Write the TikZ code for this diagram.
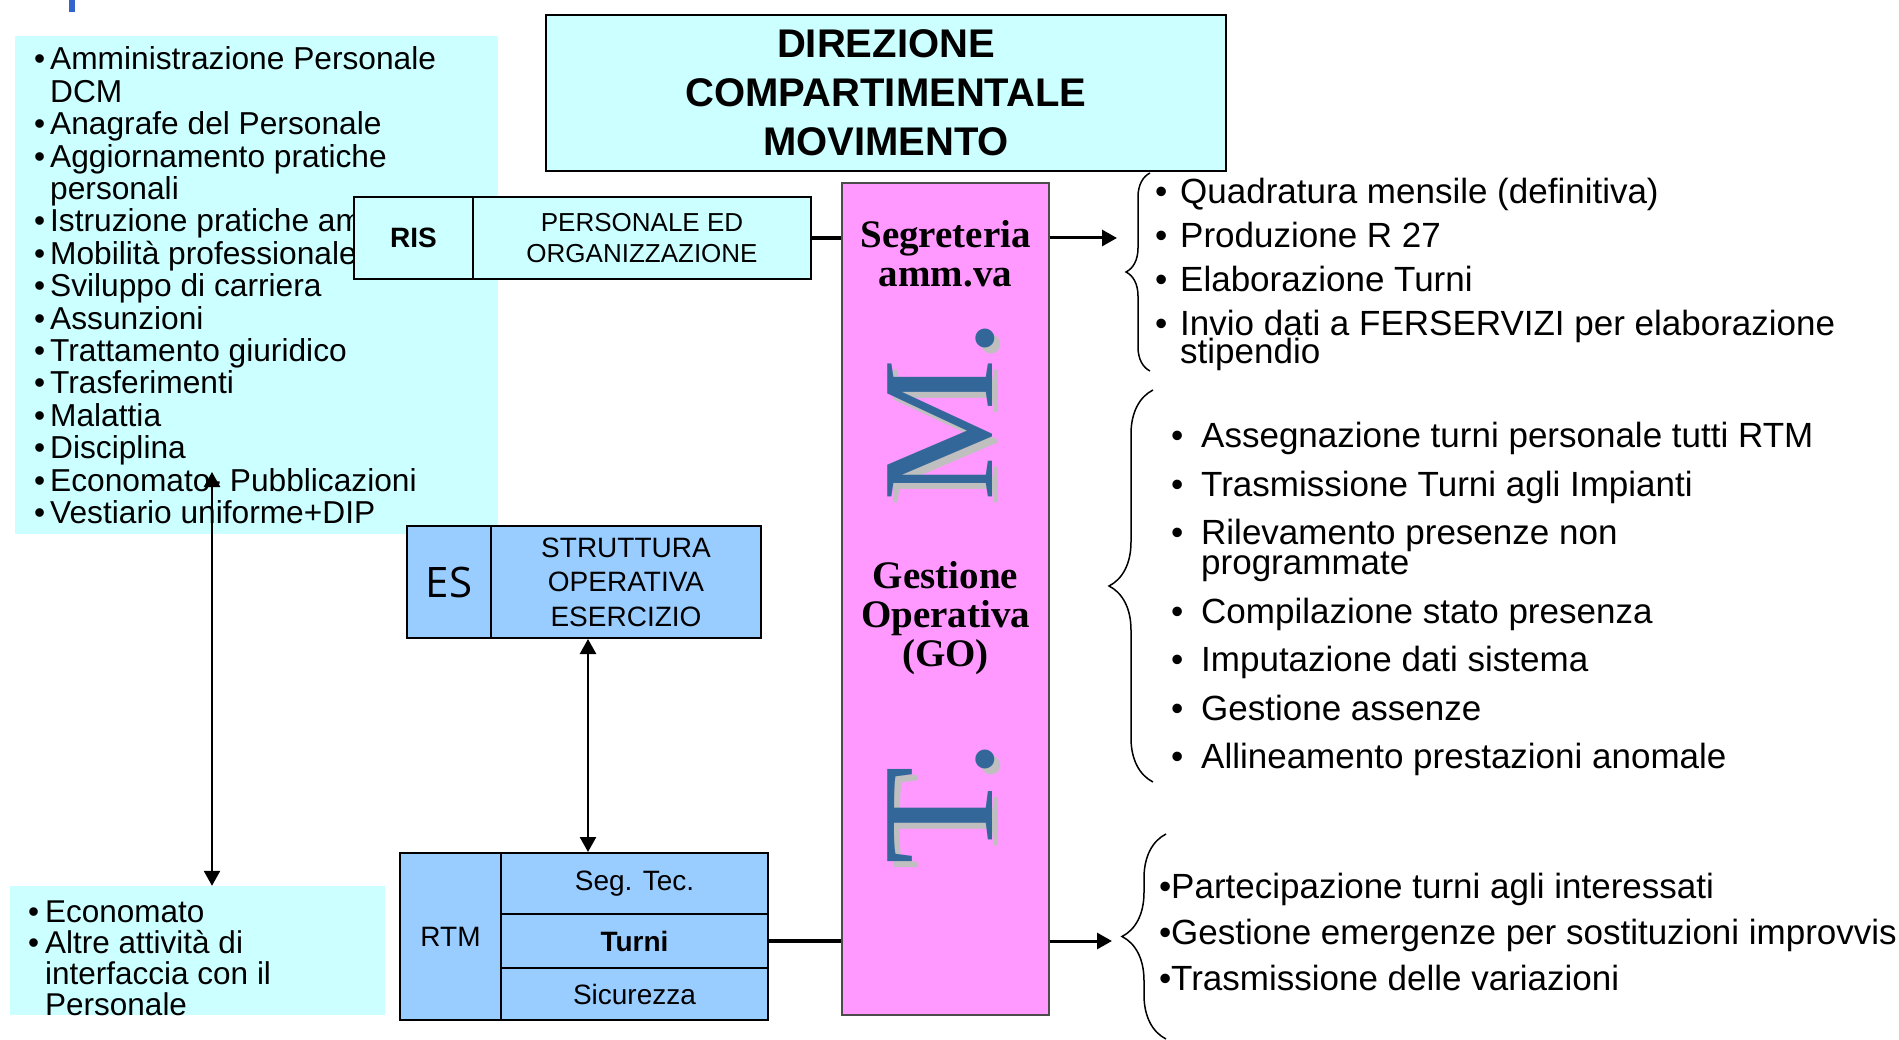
\documentclass[tikz,border=0pt]{standalone}
\usepackage{fontspec}
\setmainfont{Liberation Sans}
\newfontfamily\romfont{Liberation Serif}
\newfontfamily\esfont{Open Sans}
\usetikzlibrary{arrows.meta,decorations.pathreplacing}
\definecolor{cielo}{HTML}{CCFFFF}
\definecolor{azzurro}{HTML}{99CCFF}
\definecolor{rosa}{HTML}{FF99FF}
\definecolor{blulettera}{HTML}{336699}
\definecolor{ombra}{HTML}{BFBFBF}
\definecolor{barra}{HTML}{3366CC}
\newcommand{\lista}[3]{\fontsize{#1}{#2}\selectfont\spaceskip=0pt\xspaceskip=0pt\lineskiplimit=-100pt\parskip=#3\relax}
\newcommand{\voce}[2][16pt]{\hangindent=#1\hangafter=1\noindent\makebox[#1][l]{\textbullet}#2\par}
\tikzset{
  casella/.style={draw=black,line width=2pt,inner sep=0pt,align=center},
  celeste/.style={casella,fill=cielo},
  blu/.style={casella,fill=azzurro},
  elenco/.style={inner sep=0pt,anchor=base west,align=left,text width=#1},
  titolo/.style={inner sep=0pt,align=center,font=\romfont\bfseries\fontsize{39}{39}\selectfont},
  lettera/.style={inner sep=0pt,rotate=90,font=\romfont\fontsize{160}{160}\selectfont},
  raccordo/.style={line width=3.5pt},
  freccia/.style={line width=3pt,-{Triangle[length=15pt,width=16pt]}},
  punta/.style={line width=2.5pt,{Triangle[length=15pt,width=16pt]}-{Triangle[length=15pt,width=16pt]}},
  graffa/.style={decorate,decoration={brace,amplitude=#1},line width=1.5pt}
}
\begin{document}
\begin{tikzpicture}[x=1pt,y=-1pt]
\useasboundingbox (0,0) rectangle (1899,1040);
\fill[barra] (69,0) rectangle (75,12);

\node[fill=cielo,inner sep=0pt,minimum width=483,minimum height=498,anchor=north west] (sfondo) at (15,36) {};
\node[elenco=470] (compiti) at (34,70) {\lista{31.7}{32.4}{0pt}%
  \voce{Amministrazione Personale\newline DCM}
  \voce{Anagrafe del Personale}
  \voce{Aggiornamento pratiche\newline personali}
  \voce{Istruzione pratiche am}
  \voce{Mobilità professionale}
  \voce{Sviluppo di carriera}
  \voce{Assunzioni}
  \voce{Trattamento giuridico}
  \voce{Trasferimenti}
  \voce{Malattia}
  \voce{Disciplina}
  \voce{Economato- Pubblicazioni}
  \voce{Vestiario uniforme+DIP}};

\node[fill=cielo,inner sep=0pt,minimum width=375,minimum height=129] (altre) at (197.5,950.5) {};
\node[elenco=400] (altrelista) at (28,922) {\lista{31.5}{31}{0pt}%
  \voce[17pt]{Economato}
  \voce[17pt]{Altre attività di\newline interfaccia con il\newline Personale}};

\node[celeste,minimum width=680,minimum height=156,font=\bfseries\fontsize{40}{49}\selectfont] (dcm) at (886,93) {DIREZIONE\\COMPARTIMENTALE\\MOVIMENTO};

\node[celeste,minimum width=119,minimum height=82,font=\bfseries\fontsize{28}{30}\selectfont] (ris) at (413.5,238) {RIS};
\node[celeste,minimum width=338,minimum height=82,font=\fontsize{26}{31}\selectfont] (risorg) at (642,238) {PERSONALE ED\\ORGANIZZAZIONE};

\node[blu,minimum width=84,minimum height=112,font=\esfont\fontsize{42}{44}\selectfont] (es) at (449,582) {ES};
\node[blu,minimum width=270,minimum height=112,font=\fontsize{28}{34.5}\selectfont] (esorg) at (626,582) {STRUTTURA\\OPERATIVA\\ESERCIZIO};

\node[blu,minimum width=101,minimum height=167,font=\fontsize{28}{30}\selectfont] (rtm) at (450.5,936.5) {RTM};
\node[blu,minimum width=267,minimum height=61,font=\fontsize{28}{30}\selectfont] (segtec) at (634.5,883.5) {Seg. Tec.};
\node[blu,minimum width=267,minimum height=54,font=\bfseries\fontsize{28}{30}\selectfont] (turni) at (634.5,941) {Turni};
\node[blu,minimum width=267,minimum height=52,font=\fontsize{28}{30}\selectfont] (sicur) at (634.5,994) {Sicurezza};

\node[draw=black!70,line width=1.5pt,fill=rosa,inner sep=0pt,minimum width=207,minimum height=832] (tm) at (945.5,599) {};
\node[titolo] (segr) at (945.5,254) {Segreteria\\amm.va};
\node[titolo] (gest) at (945.5,618) {Gestione\\Operativa\\(GO)};
\node[lettera,text=ombra] (mombra) at (947,416) {M.};
\node[lettera,text=blulettera] (mlettera) at (941,410) {M.};
\node[lettera,text=ombra] (tombra) at (947,808) {T.};
\node[lettera,text=blulettera] (tlettera) at (941,802) {T.};

\coordinate (econ) at (212,472);
\coordinate (esrtm) at (588,0);
\coordinate (fineseg) at (1117,238);
\coordinate (fineturni) at (1112,941);

\draw[punta] (econ) -- (altre.north -| econ);
\draw[punta] (esorg.south -| esrtm) -- (segtec.north -| esrtm);
\draw[raccordo] (risorg.east) -- (risorg.east -| tm.west);
\draw[freccia] (risorg.east -| tm.east) -- (fineseg);
\draw[raccordo] (turni.east) -- (turni.east -| tm.west);
\draw[freccia] (turni.east -| tm.east) -- (fineturni);

\draw[graffa=24pt] (1150,371) -- (1150,173);
\draw[graffa=44pt] (1153,782) -- (1153,390);
\draw[graffa=44pt] (1166,1039) -- (1166,834);

\node[elenco=720] (segrlista) at (1155,204) {\lista{35}{28}{16pt}%
  \voce[25pt]{Quadratura mensile (definitiva)}
  \voce[25pt]{Produzione R 27}
  \voce[25pt]{Elaborazione Turni}
  \voce[25pt]{Invio dati a FERSERVIZI per elaborazione\newline stipendio}};
\node[elenco=720] (golista) at (1171,448) {\lista{35}{30}{18.5pt}%
  \voce[30pt]{Assegnazione turni personale tutti RTM}
  \voce[30pt]{Trasmissione Turni agli Impianti}
  \voce[30pt]{Rilevamento presenze non\newline programmate}
  \voce[30pt]{Compilazione stato presenza}
  \voce[30pt]{Imputazione dati sistema}
  \voce[30pt]{Gestione assenze}
  \voce[30pt]{Allineamento prestazioni anomale}};
\node[elenco=900] (turnilista) at (1159,898) {\lista{35}{46}{0pt}%
  \voce[12pt]{Partecipazione turni agli interessati}
  \voce[12pt]{Gestione emergenze per sostituzioni improvvis}
  \voce[12pt]{Trasmissione delle variazioni}};
\end{tikzpicture}
\end{document}
